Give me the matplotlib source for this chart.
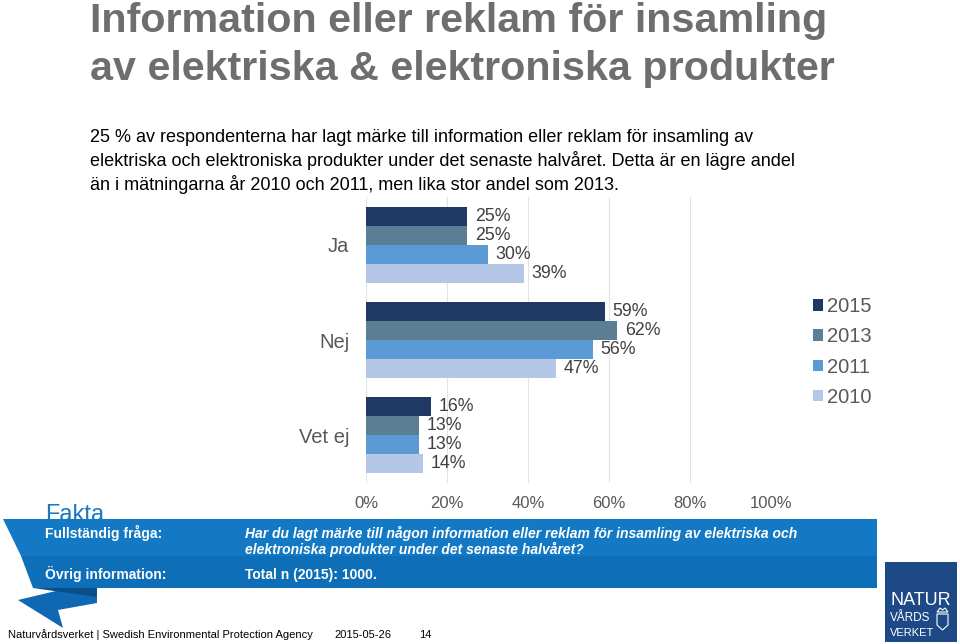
import numpy as np
import matplotlib
matplotlib.use("Agg")
import matplotlib.pyplot as plt
from matplotlib.patches import Polygon, Rectangle

plt.rcParams['font.family'] = ['Liberation Sans', 'DejaVu Sans']

# data
categories = ["Ja", "Nej", "Vet ej"]
years = ["2015", "2013", "2011", "2010"]
v2015 = [25, 59, 16]
v2013 = [25, 62, 13]
v2011 = [30, 56, 13]
v2010 = [39, 47, 14]
series = [v2015, v2013, v2011, v2010]
colors = ["#203864", "#5B7E95", "#5B9BD5", "#B4C7E7"]
xticks = [0, 20, 40, 60, 80, 100]

W, H = 960, 644
fig = plt.figure(figsize=(W / 100, H / 100), dpi=100)


def fx(x):
    return x / W


def fy(y):
    return 1 - y / H


def poly(pts, color, z, fill=True):
    p = Polygon([(fx(a), fy(b)) for a, b in pts], closed=True, transform=fig.transFigure,
                facecolor=color if fill else "none", edgecolor="none" if fill else color,
                linewidth=0.8, zorder=z)
    fig.patches.append(p)


# title + intro text
title_col = "#6E6E6E"
fig.text(fx(90), fy(32), "Information eller reklam för insamling", fontsize=29.7, fontweight="bold",
         color=title_col, va="baseline")
fig.text(fx(90), fy(80), "av elektriska & elektroniska produkter", fontsize=29.7, fontweight="bold",
         color=title_col, va="baseline")
intro = ["25 % av respondenterna har lagt märke till information eller reklam för insamling av",
         "elektriska och elektroniska produkter under det senaste halvåret. Detta är en lägre andel",
         "än i mätningarna år 2010 och 2011, men lika stor andel som 2013."]
for i, line in enumerate(intro):
    fig.text(fx(90), fy(142 + 24 * i), line, fontsize=13, color="black", va="baseline")

# chart
ax = fig.add_axes([fx(366), fy(483), fx(771) - fx(366), (483 - 197) / H])
ypos = np.arange(len(categories))
bh = 0.2
for i, (vals, yr, c) in enumerate(zip(series, years, colors)):
    bars = ax.barh(ypos + (i - 1.5) * bh, vals, height=bh, color=c, label=yr, zorder=2)
    ax.bar_label(bars, labels=[f"{v}%" for v in vals], padding=5.5, fontsize=12.8, color="#404040")

ax.set_xlim(0, 100)
ax.set_ylim(2.5, -0.5)
ax.set_xticks(xticks)
ax.set_xticklabels([f"{t}%" for t in xticks], fontsize=12, color="#595959")
ax.set_yticks(ypos)
ax.set_yticklabels(categories, fontsize=14.5, color="#595959")
ax.tick_params(axis="both", length=0)
ax.tick_params(axis="x", pad=9)
ax.tick_params(axis="y", pad=12)
ax.grid(axis="x", color="#E3E3E3", linewidth=0.8, zorder=0)
for s in ax.spines.values():
    s.set_visible(False)
ax.set_facecolor("none")

leg = ax.legend(loc="upper left", bbox_to_anchor=(fx(813), fy(297)), bbox_transform=fig.transFigure,
                frameon=False, fontsize=14.5, handlelength=0.5, handleheight=0.5,
                handletextpad=0.2, labelspacing=0.56, borderpad=0, borderaxespad=0)
for t in leg.get_texts():
    t.set_color("#595959")

# Fakta banner
fig.text(fx(45), fy(521), "Fakta", fontsize=17, color="#1A78C2", va="baseline", zorder=1)
poly([(18, 600), (60, 590), (97, 588), (97, 603), (58, 610), (63, 628)], "#1068B2", 2)
poly([(33, 588), (97, 588), (97, 597)], "#0A4F8A", 2)
poly([(3, 519), (877, 519), (877, 556), (21, 556)], "#1479C4", 3)
poly([(21, 556), (877, 556), (877, 588), (33, 588)], "#0E6FB8", 3)

wt = dict(color="white", fontsize=10, fontweight="bold", va="baseline", zorder=4)
fig.text(fx(45), fy(538), "Fullständig fråga:", **wt)
fig.text(fx(45), fy(579), "Övrig information:", **wt)
fig.text(fx(245), fy(538), "Har du lagt märke till någon information eller reklam för insamling av elektriska och",
         style="italic", **wt)
fig.text(fx(245), fy(554), "elektroniska produkter under det senaste halvåret?", style="italic", **wt)
fig.text(fx(245), fy(579), "Total n (2015): 1000.", **wt)

# footer
ft = dict(fontsize=8, color="black", va="baseline")
fig.text(fx(8), fy(638), "Naturvårdsverket | Swedish Environmental Protection Agency", **ft)
fig.text(fx(334), fy(638), "2015-05-26", **ft)
fig.text(fx(419), fy(638), "14", **ft)

# logo
fig.patches.append(Rectangle((fx(885), fy(642)), fx(957) - fx(885), (642 - 562) / H,
                             transform=fig.transFigure, facecolor="#1D4A87", edgecolor="none", zorder=2))
fig.text(fx(890), fy(605), "NATUR", fontsize=13, color="white", va="baseline", zorder=3)
fig.text(fx(890), fy(621), "VÅRDS", fontsize=8.5, color="white", va="baseline", zorder=3)
fig.text(fx(890), fy(636), "VERKET", fontsize=8, color="white", va="baseline", zorder=3)
# small crest next to the logo text
poly([(937, 614), (948, 614), (948, 625), (942.5, 630), (937, 625)], "white", 3, fill=False)
poly([(937, 612), (940, 608), (942.5, 610), (945, 608), (948, 612)], "white", 3, fill=False)

fig.savefig("out.png", dpi=100)
